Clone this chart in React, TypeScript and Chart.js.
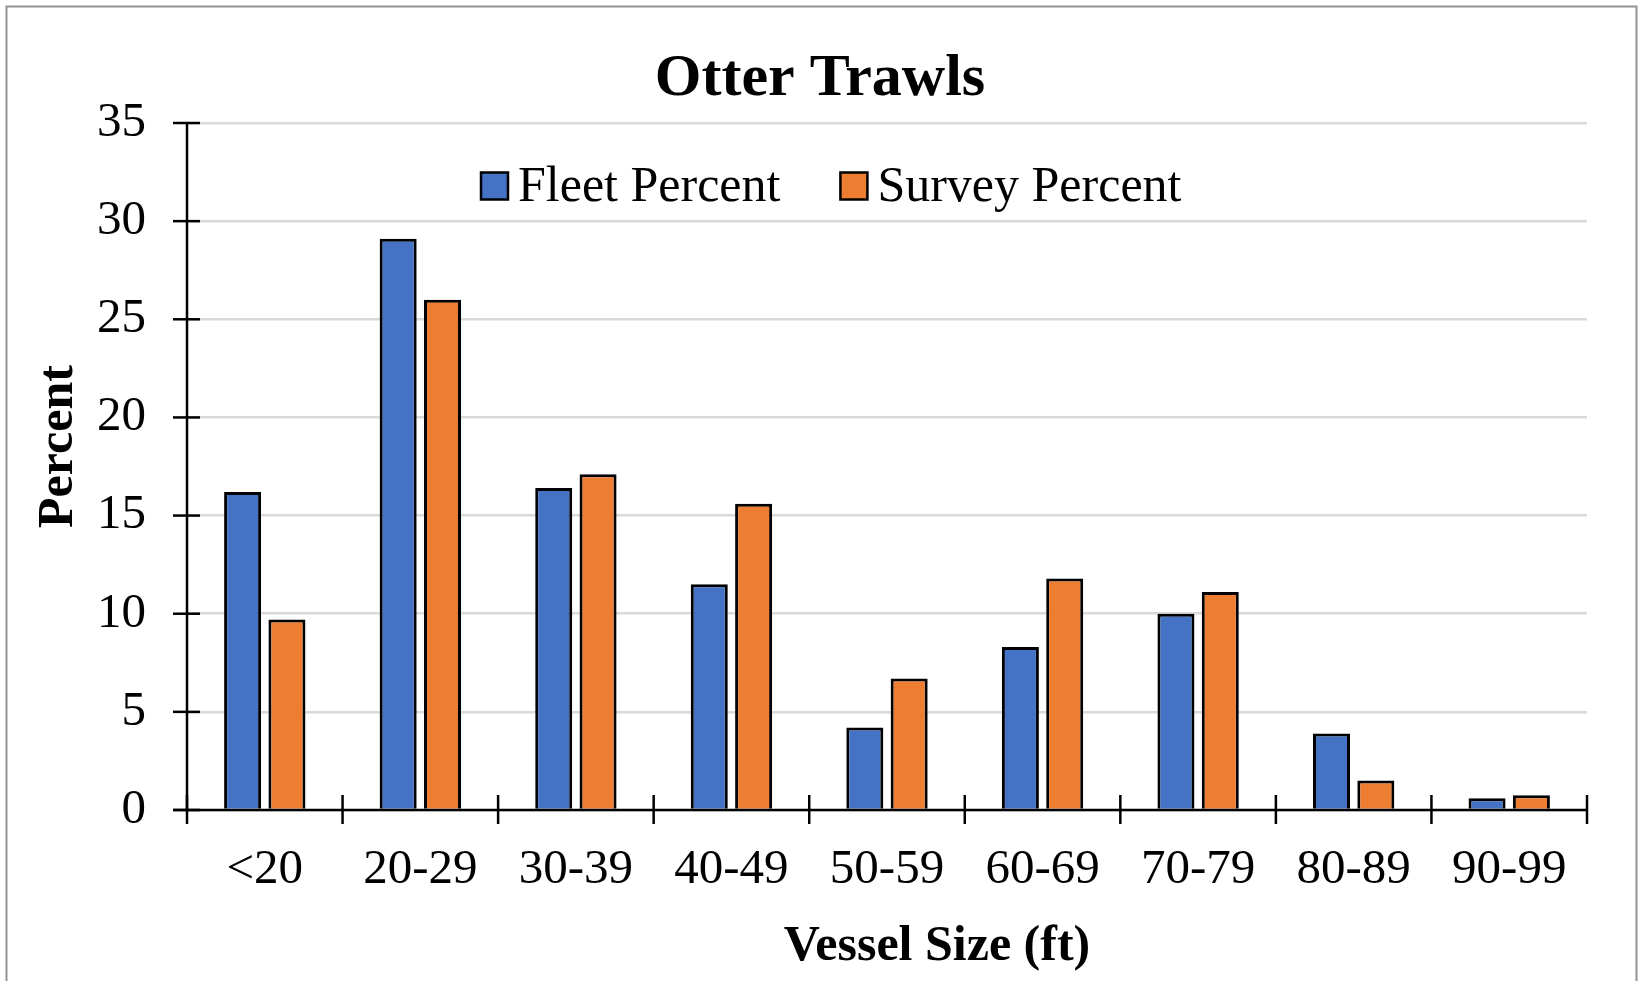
import React, { useEffect, useRef } from 'react';
import { Chart, registerables } from 'chart.js';

Chart.register(...registerables);

const categories = ['<20', '20-29', '30-39', '40-49', '50-59', '60-69', '70-79', '80-89', '90-99'];
const fleetPercent = [16.2, 29.1, 16.4, 11.5, 4.2, 8.3, 10.0, 3.9, 0.6];
const surveyPercent = [9.7, 26.0, 17.1, 15.6, 6.7, 11.8, 11.1, 1.5, 0.75];
const seriesNames = ['Fleet Percent', 'Survey Percent'];
const seriesColors = ['#4472C4', '#ED7D31'];
const yMin = 0;
const yMax = 35;
const yStep = 5;
const chartTitle = 'Otter Trawls';
const xTitle = 'Vessel Size (ft)';
const yTitle = 'Percent';

const FONT = "'Liberation Serif', 'Times New Roman', serif";

const decorPlugin = {
  id: 'decor',
  beforeDraw(chart: any) {
    const ctx = chart.ctx;
    ctx.save();
    ctx.fillStyle = '#ffffff';
    ctx.fillRect(0, 0, chart.width, chart.height);
    ctx.strokeStyle = '#939393';
    ctx.lineWidth = 2;
    ctx.strokeRect(6.5, 6.5, chart.width - 10, chart.height + 40);
    ctx.restore();
  },
  afterDraw(chart: any) {
    const ctx = chart.ctx;
    const a = chart.chartArea;
    const x = chart.scales.x;
    const y = chart.scales.y;
    const line = (x1: number, y1: number, x2: number, y2: number) => {
      ctx.beginPath();
      ctx.moveTo(x1, y1);
      ctx.lineTo(x2, y2);
      ctx.stroke();
    };
    ctx.save();
    ctx.strokeStyle = '#000';
    ctx.lineWidth = 2.5;
    // axis lines
    line(a.left, a.top - 1, a.left, a.bottom);
    line(a.left - 14, a.bottom, a.right, a.bottom);
    // y tick marks crossing the axis
    y.ticks.forEach((_t: any, i: number) => {
      const py = y.getPixelForTick(i);
      line(a.left - 14, py, a.left + 13, py);
    });
    // x tick marks at category boundaries
    const n = chart.data.labels.length;
    for (let i = 0; i <= n; i++) {
      let px;
      if (i === 0) px = a.left;
      else if (i === n) px = a.right;
      else px = (x.getPixelForValue(i - 1) + x.getPixelForValue(i)) / 2;
      line(px, a.bottom - 15, px, a.bottom + 14);
    }
    // title
    ctx.fillStyle = '#000';
    ctx.font = `bold 60px ${FONT}`;
    ctx.textAlign = 'center';
    ctx.textBaseline = 'middle';
    ctx.fillText(chartTitle, chart.width / 2, 79);
    // legend
    ctx.font = `50px ${FONT}`;
    ctx.textAlign = 'left';
    ctx.textBaseline = 'alphabetic';
    let lx = 481;
    const cy = 186;
    chart.data.datasets.forEach((ds: any) => {
      ctx.fillStyle = ds.backgroundColor;
      ctx.fillRect(lx, cy - 13.5, 27, 27);
      ctx.strokeStyle = '#000';
      ctx.lineWidth = 2.5;
      ctx.strokeRect(lx, cy - 13.5, 27, 27);
      ctx.fillStyle = '#000';
      ctx.fillText(ds.label, lx + 37, 201);
      lx += 37 + ctx.measureText(ds.label).width + 60;
    });
    // axis titles
    ctx.font = `bold 50px ${FONT}`;
    ctx.textAlign = 'center';
    ctx.textBaseline = 'middle';
    ctx.fillText(xTitle, (a.left + a.right) / 2 + 50, a.bottom + 137);
    ctx.save();
    ctx.translate(a.left - 128, (a.top + a.bottom) / 2 - 20);
    ctx.rotate(-Math.PI / 2);
    ctx.fillText(yTitle, 0, 0);
    ctx.restore();
    ctx.restore();
  },
};

export default function App() {
  const canvasRef = useRef<HTMLCanvasElement | null>(null);

  useEffect(() => {
    if (!canvasRef.current) return;
    const chart = new Chart(canvasRef.current, {
      type: 'bar',
      data: {
        labels: categories,
        datasets: [
          {
            label: seriesNames[0],
            data: fleetPercent,
            backgroundColor: seriesColors[0],
            borderColor: '#000',
            borderWidth: 3,
            barPercentage: 0.835,
            categoryPercentage: 0.57,
          },
          {
            label: seriesNames[1],
            data: surveyPercent,
            backgroundColor: seriesColors[1],
            borderColor: '#000',
            borderWidth: 3,
            barPercentage: 0.835,
            categoryPercentage: 0.57,
          },
        ],
      },
      options: {
        animation: false,
        responsive: false,
        devicePixelRatio: 1,
        layout: { padding: { left: 87, right: 53, top: 123, bottom: 71 } },
        plugins: {
          legend: { display: false },
          title: { display: false },
          tooltip: { enabled: false },
        },
        scales: {
          x: {
            offset: true,
            grid: { display: false, drawTicks: false },
            border: { display: false },
            ticks: {
              color: '#000',
              font: { family: FONT, size: 49 },
              padding: 31,
              maxRotation: 0,
              autoSkip: false,
            },
            afterFit: (scale: any) => {
              scale.height = 100;
            },
          },
          y: {
            min: yMin,
            max: yMax,
            grid: { color: '#d9d9d9', lineWidth: 2.5, drawTicks: false },
            border: { display: false },
            ticks: {
              stepSize: yStep,
              color: '#000',
              font: { family: FONT, size: 49 },
              padding: 41,
            },
            afterFit: (scale: any) => {
              scale.width = 100;
            },
          },
        },
      },
      plugins: [decorPlugin],
    });
    return () => chart.destroy();
  }, []);

  return (
    <div style={{ position: 'absolute', left: 0, top: 0, width: 1640, height: 981 }}>
      <canvas ref={canvasRef} width={1640} height={981} style={{ display: 'block', width: 1640, height: 981 }} />
    </div>
  );
}
